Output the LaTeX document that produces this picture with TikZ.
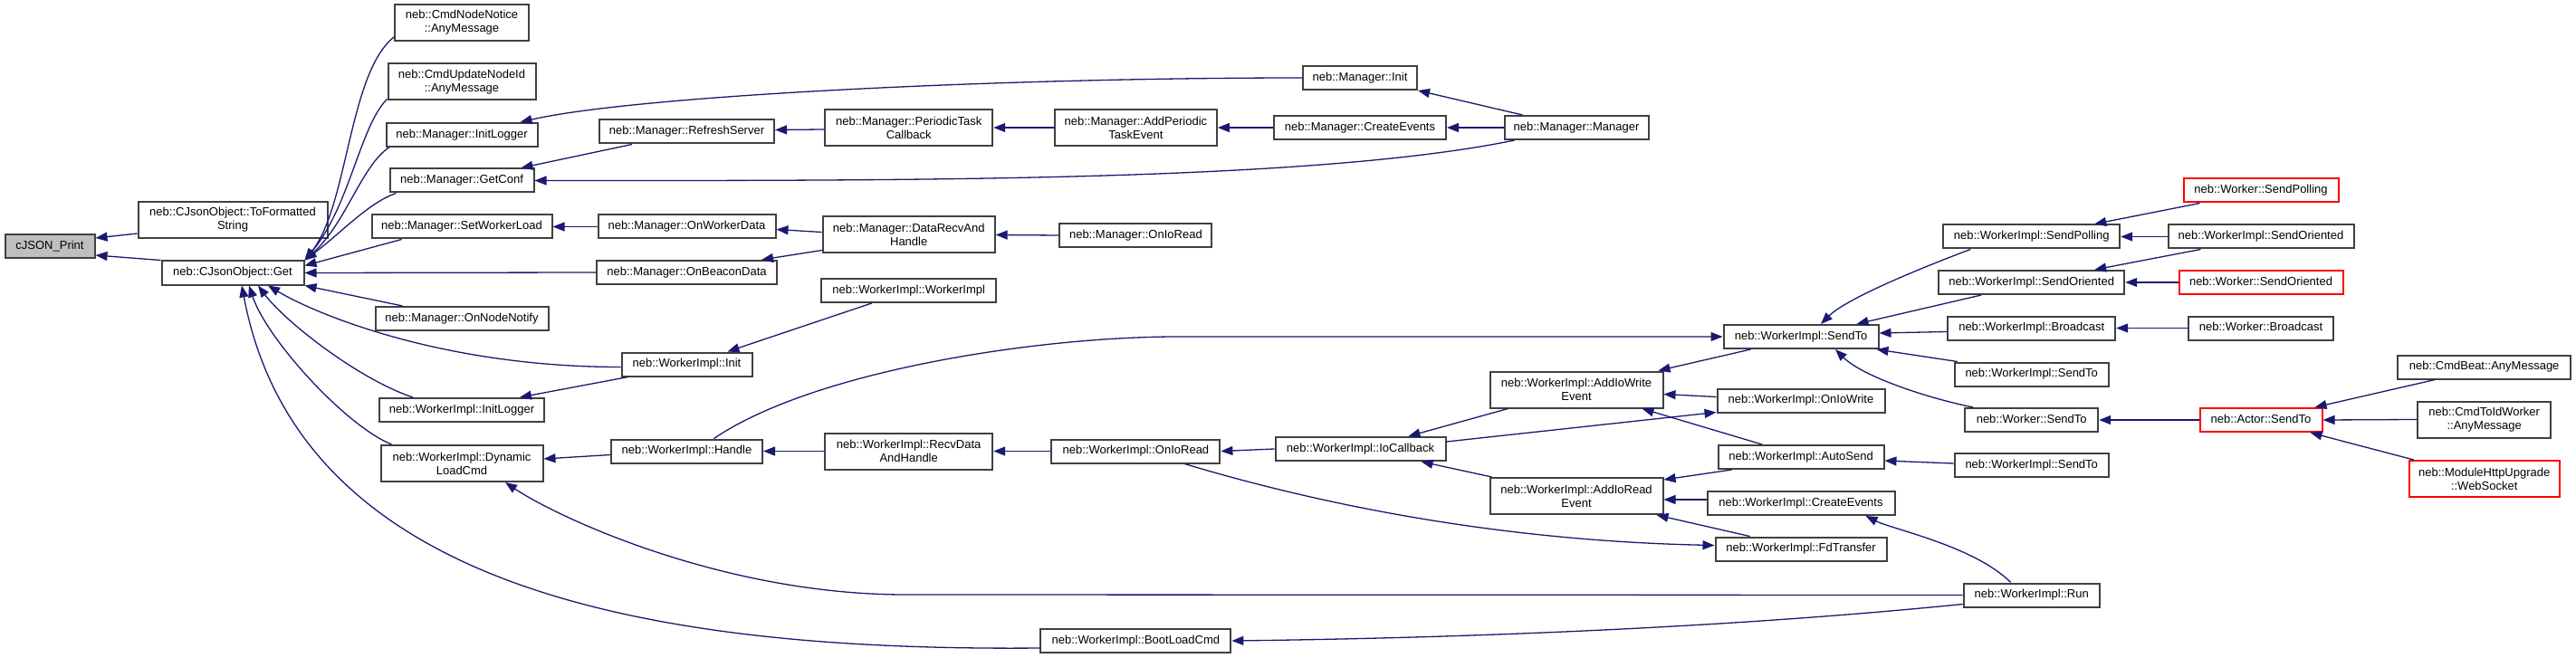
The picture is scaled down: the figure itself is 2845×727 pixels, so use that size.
\documentclass[tikz,border=0pt]{standalone}
\usepackage{fontspec}
\setmainfont{Liberation Sans}
\usepackage{xcolor}
\usepackage{tikz}
\usetikzlibrary{arrows.meta}

\definecolor{edgeblue}{RGB}{25,25,112}
\definecolor{boxgray}{RGB}{64,64,64}
\definecolor{fillgray}{RGB}{191,191,191}

\begin{document}
\begin{tikzpicture}[x=1pt, y=-1pt,
    fn/.style={draw=boxgray, line width=2pt, fill=white, inner xsep=2pt, inner ysep=0pt,
        minimum height=26pt, text height=9.5pt, text depth=2.8pt, font=\fontsize{13}{15}\selectfont},
    fn2/.style={draw=boxgray, line width=2pt, fill=white, inner xsep=2pt, inner ysep=0pt,
        minimum height=40pt, align=center, font=\fontsize{13}{15}\selectfont},
    missing/.style={draw=red},
    call/.style={draw=edgeblue, line width=1.3pt, -{Triangle[length=13pt,width=10pt]}}]

    \useasboundingbox (0,0) rectangle (2845,727);

    % Column 0 and 1
    \node[fn, fill=fillgray, minimum width=99pt] (print) at (55,272) {cJSON\_Print};
    \node[fn2, minimum width=209pt] (tofmt) at (257,243) {neb::CJsonObject::ToFormatted\\String};
    \node[fn, minimum width=157pt] (get) at (257,301.5) {neb::CJsonObject::Get};

    % Column 2
    \node[fn2, minimum width=148pt] (nodenotice) at (510,25) {neb::CmdNodeNotice\\::AnyMessage};
    \node[fn2, minimum width=163pt] (updateid) at (510,90.5) {neb::CmdUpdateNodeId\\::AnyMessage};
    \node[fn, minimum width=167pt] (mgrinitlog) at (510,149) {neb::Manager::InitLogger};
    \node[fn, minimum width=159pt] (getconf) at (510,199.5) {neb::Manager::GetConf};
    \node[fn, minimum width=199pt] (setload) at (510,250.5) {neb::Manager::SetWorkerLoad};
    \node[fn, minimum width=191pt] (nodenotify) at (510,352) {neb::Manager::OnNodeNotify};
    \node[fn, minimum width=182pt] (wiinitlog) at (510,453) {neb::WorkerImpl::InitLogger};
    \node[fn2, minimum width=179pt] (dynload) at (510,512) {neb::WorkerImpl::Dynamic\\LoadCmd};

    % Column 3
    \node[fn, minimum width=193pt] (refresh) at (758.5,145.5) {neb::Manager::RefreshServer};
    \node[fn, minimum width=196pt] (onworker) at (758.5,250.5) {neb::Manager::OnWorkerData};
    \node[fn, minimum width=199pt] (onbeacon) at (758.5,301) {neb::Manager::OnBeaconData};
    \node[fn, minimum width=144pt] (wiinit) at (758.5,402.5) {neb::WorkerImpl::Init};
    \node[fn, minimum width=167pt] (wihandle) at (758.5,498.5) {neb::WorkerImpl::Handle};

    % Column 4
    \node[fn2, minimum width=185pt] (periodic) at (1003.7,141) {neb::Manager::PeriodicTask\\Callback};
    \node[fn2, minimum width=190pt] (datarecv) at (1003.7,259.5) {neb::Manager::DataRecvAnd\\Handle};
    \node[fn, minimum width=193pt] (wictor) at (1003.7,321) {neb::WorkerImpl::WorkerImpl};
    \node[fn2, minimum width=185pt] (recvdata) at (1003.7,498.5) {neb::WorkerImpl::RecvData\\AndHandle};

    % Column 5
    \node[fn2, minimum width=179pt] (addperiodic) at (1254.4,141) {neb::Manager::AddPeriodic\\TaskEvent};
    \node[fn, minimum width=168pt] (mgrioread) at (1254.4,260) {neb::Manager::OnIoRead};
    \node[fn, minimum width=186pt] (wiioread) at (1254.4,498.5) {neb::WorkerImpl::OnIoRead};
    \node[fn, minimum width=210pt] (bootload) at (1254.4,708) {neb::WorkerImpl::BootLoadCmd};

    % Column 6
    \node[fn, minimum width=126pt] (mgrinit) at (1502,86) {neb::Manager::Init};
    \node[fn, minimum width=190pt] (mgrcreate) at (1502,141) {neb::Manager::CreateEvents};
    \node[fn, minimum width=188pt] (iocallback) at (1502.5,496) {neb::WorkerImpl::IoCallback};

    % Column 7
    \node[fn, minimum width=159pt] (manager) at (1741,141) {neb::Manager::Manager};
    \node[fn2, minimum width=191pt] (addiowrite) at (1741,430.5) {neb::WorkerImpl::AddIoWrite\\Event};
    \node[fn2, minimum width=191pt] (addioread) at (1741,548) {neb::WorkerImpl::AddIoRead\\Event};

    % Column 8
    \node[fn, minimum width=171pt] (sendto) at (1989,372) {neb::WorkerImpl::SendTo};
    \node[fn, minimum width=185pt] (oniowrite) at (1989,442.5) {neb::WorkerImpl::OnIoWrite};
    \node[fn, minimum width=183pt] (autosend) at (1989,505) {neb::WorkerImpl::AutoSend};
    \node[fn, minimum width=207pt] (wicreate) at (1989,556) {neb::WorkerImpl::CreateEvents};
    \node[fn, minimum width=189pt] (fdtransfer) at (1989,606.5) {neb::WorkerImpl::FdTransfer};

    % Column 9
    \node[fn, minimum width=195pt] (sendpolling) at (2243.7,261.5) {neb::WorkerImpl::SendPolling};
    \node[fn, minimum width=205pt] (sendoriented) at (2243.7,312) {neb::WorkerImpl::SendOriented};
    \node[fn, minimum width=185pt] (broadcast) at (2243.7,362.5) {neb::WorkerImpl::Broadcast};
    \node[fn, minimum width=170pt] (sendtoB) at (2243.7,413.5) {neb::WorkerImpl::SendTo};
    \node[fn, minimum width=147pt] (workersendto) at (2243.7,464) {neb::Worker::SendTo};
    \node[fn, minimum width=170pt] (sendtoC) at (2243.7,514) {neb::WorkerImpl::SendTo};
    \node[fn, minimum width=150pt] (run) at (2243.7,657.5) {neb::WorkerImpl::Run};

    % Column 10
    \node[fn, missing, minimum width=171pt] (wsendpolling) at (2497,210.5) {neb::Worker::SendPolling};
    \node[fn, minimum width=205pt] (sendorientedB) at (2497,261.5) {neb::WorkerImpl::SendOriented};
    \node[fn, missing, minimum width=181pt] (wsendoriented) at (2497,312) {neb::Worker::SendOriented};
    \node[fn, minimum width=160pt] (wbroadcast) at (2497,362.5) {neb::Worker::Broadcast};
    \node[fn, missing, minimum width=135pt] (actorsendto) at (2497,464) {neb::Actor::SendTo};

    % Column 11
    \node[fn, minimum width=191pt] (cmdbeat) at (2743.7,405.5) {neb::CmdBeat::AnyMessage};
    \node[fn2, minimum width=147pt] (cmdtoid) at (2743.7,463.5) {neb::CmdToIdWorker\\::AnyMessage};
    \node[fn2, missing, minimum width=166pt] (websocket) at (2743.7,529) {neb::ModuleHttpUpgrade\\::WebSocket};

    % Into cJSON_Print
    \draw[call] ([yshift=6pt]tofmt.south west) -- ([yshift=-5pt]print.north east);
    \draw[call] (get.north west) -- ([yshift=4pt]print.south east);

    % Callers of Get
    \draw[call] ([yshift=5pt]nodenotice.south west) .. controls +(-50,40) and +(48,-60) .. (get.north east);
    \draw[call] ([yshift=2pt]updateid.south west) .. controls +(-30,30) and +(50,-60) .. (get.north east);
    \draw[call] ([xshift=4pt]mgrinitlog.south west) .. controls +(-30,20) and +(45,-40) .. (get.north east);
    \draw[call] ([xshift=8pt]getconf.south west) .. controls +(-30,10) and +(40,-30) .. (get.north east);
    \draw[call] ([xshift=34pt]setload.south west) -- ([yshift=8pt]get.east);
    \draw[call] (onbeacon.west) -- (get.east);
    \draw[call] ([xshift=31pt]nodenotify.north west) -- (get.south east);
    \draw[call] ([yshift=-3pt]wiinit.west) .. controls +(-200,0) and +(50,30) .. ([xshift=39pt]get.south);
    \draw[call] ([xshift=38pt]wiinitlog.north west) .. controls +(-60,-20) and +(30,40) .. ([xshift=28pt]get.south);
    \draw[call] ([xshift=13pt]dynload.north west) .. controls +(-50,-20) and +(20,60) .. ([xshift=18pt]get.south);
    \draw[call] ([yshift=-8pt]bootload.west) .. controls +(-450,4) and +(62,328) .. ([xshift=10pt]get.south);

    % Manager
    \draw[call] ([xshift=-41pt]wictor.south) -- ([xshift=-28pt]wiinit.north east);
    \draw[call] ([xshift=37pt]refresh.south west) -- ([xshift=-15pt]getconf.north east);
    \draw[call] (mgrinit.west) .. controls +(-340,0) and +(126,-29) .. ([xshift=-20pt]mgrinitlog.north east);
    \draw[call] ([xshift=12pt]manager.south west) .. controls +(-224,46) and +(410,0) .. (getconf.east);
    \draw[call] ([xshift=21pt]manager.north west) -- (mgrinit.south east);
    \draw[call] (manager.west) -- (mgrcreate.east);
    \draw[call] (mgrcreate.west) -- (addperiodic.east);
    \draw[call] (addperiodic.west) -- (periodic.east);
    \draw[call] ([yshift=-2pt]periodic.west) -- ([yshift=2pt]refresh.east);
    \draw[call] (onworker.west) -- (setload.east);
    \draw[call] ([yshift=3pt]datarecv.west) -- ([yshift=-3pt]onworker.east);
    \draw[call] ([yshift=4pt]datarecv.south west) -- ([xshift=-18pt]onbeacon.north east);
    \draw[call] (mgrioread.west) -- (datarecv.east);

    % WorkerImpl
    \draw[call] ([yshift=-4pt]wihandle.west) -- ([yshift=5pt]dynload.east);
    \draw[call] ([xshift=8pt]wiinit.south west) -- ([xshift=-28pt]wiinitlog.north east);
    \draw[call] (recvdata.west) -- (wihandle.east);
    \draw[call] (wiioread.west) -- (recvdata.east);
    \draw[call] (iocallback.west) -- (wiioread.east);
    \draw[call] ([xshift=30pt]wihandle.north) .. controls +(112,-76) and +(-150,0) .. (1300,372) -- (sendto.west);
    \draw[call] ([xshift=21pt]addiowrite.south west) -- ([xshift=-42pt]iocallback.north east);
    \draw[call] ([xshift=3pt]addioread.north west) -- ([xshift=-28pt]iocallback.south east);
    \draw[call] ([yshift=8pt]iocallback.east) -- ([yshift=1pt]oniowrite.south west);
    \draw[call] ([xshift=-40pt]wiioread.south east) .. controls +(193,58) and +(-194,-4) .. ([yshift=4pt]fdtransfer.west);
    \draw[call] ([xshift=31pt]sendto.south west) -- ([xshift=-6pt]addiowrite.north east);
    \draw[call] ([yshift=4pt]oniowrite.west) -- ([yshift=-5pt]addiowrite.east);
    \draw[call] ([xshift=-43pt]autosend.north) -- ([xshift=-24pt]addiowrite.south east);
    \draw[call] ([xshift=16pt]autosend.south west) -- ([yshift=-3pt]addioread.north east);
    \draw[call] ([yshift=4pt]wicreate.west) -- ([yshift=-4pt]addioread.east);
    \draw[call] ([xshift=39pt]fdtransfer.north west) -- ([xshift=-8pt]addioread.south east);
    \draw[call] ([xshift=-23pt]run.north) .. controls +(-40,-40) and +(30,15) .. ([xshift=-33pt]wicreate.south east);
    \draw[call] (run.west) -- (1000,657) .. controls +(-200,0) and +(60,40) .. ([xshift=48pt]dynload.south);
    \draw[call] ([yshift=-10pt]run.west) .. controls +(-268,27) and +(241,-3) .. (bootload.east);

    % SendTo and the Worker side
    \draw[call] ([xshift=31pt]sendpolling.south west) .. controls +(-40,15) and +(30,-30) .. ([xshift=22pt]sendto.north);
    \draw[call] ([xshift=48pt]sendoriented.south west) -- ([xshift=-25pt]sendto.north east);
    \draw[call] ([yshift=-4pt]broadcast.west) -- ([yshift=4pt]sendto.east);
    \draw[call] ([xshift=4pt]sendtoB.north west) -- ([xshift=-3pt]sendto.south east);
    \draw[call] ([xshift=10pt]workersendto.north west) .. controls +(-50,-10) and +(30,30) .. ([xshift=38pt]sendto.south);
    \draw[call] ([xshift=19pt]wsendpolling.south west) -- ([xshift=-29pt]sendpolling.north east);
    \draw[call] (sendorientedB.west) -- (sendpolling.east);
    \draw[call] ([xshift=37pt]sendorientedB.south west) -- ([xshift=-34pt]sendoriented.north east);
    \draw[call] (wsendoriented.west) -- (sendoriented.east);
    \draw[call] (wbroadcast.west) -- (broadcast.east);
    \draw[call] (actorsendto.west) -- (workersendto.east);
    \draw[call] ([xshift=42pt]cmdbeat.south west) -- ([xshift=-9pt]actorsendto.north east);
    \draw[call] (cmdtoid.west) -- (actorsendto.east);
    \draw[call] ([xshift=6pt]websocket.north west) -- ([xshift=-14pt]actorsendto.south east);
    \draw[call] ([yshift=2pt]sendtoC.west) -- ([yshift=-4pt]autosend.east);

\end{tikzpicture}
\end{document}
